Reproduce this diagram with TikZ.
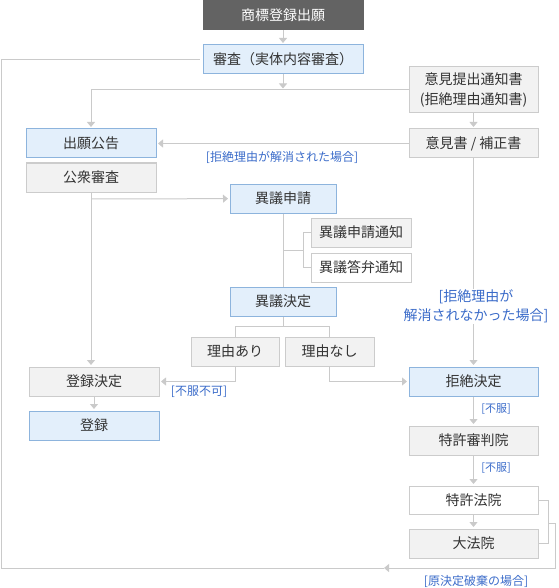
\documentclass[tikz,border=0pt]{standalone}
\usepackage{fontspec}
\setmainfont{Noto Sans CJK JP}
\usetikzlibrary{arrows.meta}
\definecolor{ln}{HTML}{CACACA}
\definecolor{bluefill}{HTML}{E3EFFB}
\definecolor{blueline}{HTML}{8DB4DD}
\definecolor{grayfill}{HTML}{F2F2F2}
\definecolor{grayline}{HTML}{CCCCCC}
\definecolor{txt}{HTML}{333333}
\definecolor{lbl}{HTML}{3A6BC9}
\definecolor{dark}{HTML}{636363}
\begin{document}
\begin{tikzpicture}[x=1pt,y=-1pt,
  base/.style={draw, line width=1pt, inner sep=0pt, text=txt, font=\fontsize{14}{19.5}\selectfont, align=center},
  bluebox/.style={base, fill=bluefill, draw=blueline},
  graybox/.style={base, fill=grayfill, draw=grayline},
  whitebox/.style={base, fill=white, draw=grayline},
  darkbox/.style={base, fill=dark, draw=dark, text=white},
  conn/.style={draw=ln, line width=1pt},
  arr/.style={conn, -{Triangle[width=8pt,length=5pt]}, shorten >=1.5pt},
  lab/.style={text=lbl, font=\fontsize{12}{19}\selectfont, inner sep=1pt, align=center},
  biglab/.style={lab, font=\fontsize{14}{19}\selectfont},
  smalllab/.style={lab, font=\fontsize{11}{19}\selectfont}
]
\useasboundingbox (0,0) rectangle (558,588);
% boxes
\node[darkbox, minimum width=160pt, minimum height=30pt] (app) at (283,15) {商標登録出願};
\node[bluebox, minimum width=160pt, minimum height=29pt] (exam) at (283,59.5) {審査（実体内容審査）};
\node[graybox, minimum width=129pt, minimum height=46pt] (notice) at (473.5,90) {意見提出通知書\\(拒絶理由通知書)};
\node[graybox, minimum width=129pt, minimum height=29pt] (opinion) at (473.5,143.5) {意見書 / 補正書};
\node[bluebox, minimum width=130pt, minimum height=29pt] (pub) at (91,143.5) {出願公告};
\node[graybox, minimum width=130pt, minimum height=29pt] (pubexam) at (91,177.5) {公衆審査};
\node[bluebox, minimum width=106pt, minimum height=29pt] (opp) at (283,198.5) {異議申請};
\node[graybox, minimum width=100pt, minimum height=29pt] (oppnote) at (361,232.5) {異議申請通知};
\node[whitebox, minimum width=100pt, minimum height=29pt] (oppans) at (361,267.5) {異議答弁通知};
\node[bluebox, minimum width=106pt, minimum height=29pt] (oppdec) at (283,301.5) {異議決定};
\node[graybox, minimum width=88pt, minimum height=29pt] (yes) at (235,351.5) {理由あり};
\node[graybox, minimum width=89pt, minimum height=29pt] (no) at (329.5,351.5) {理由なし};
\node[graybox, minimum width=130pt, minimum height=29pt] (regdec) at (94,381.5) {登録決定};
\node[bluebox, minimum width=130pt, minimum height=29pt] (reg) at (94,425.5) {登録};
\node[bluebox, minimum width=129pt, minimum height=29pt] (rej) at (473.5,381.5) {拒絶決定};
\node[graybox, minimum width=129pt, minimum height=29pt] (trib) at (473.5,440.5) {特許審判院};
\node[whitebox, minimum width=129pt, minimum height=28pt] (patct) at (473.5,500) {特許法院};
\node[graybox, minimum width=129pt, minimum height=29pt] (supct) at (473.5,543.5) {大法院};
% coordinates
\coordinate (j1) at (283,90);
\coordinate (j2) at (91,90);
\coordinate (j3) at (91,199);
\coordinate (b1) at (303,232.5);
\coordinate (b2) at (303,267.5);
\coordinate (b3) at (283,250);
\coordinate (b4) at (303,250);
\coordinate (d1) at (283,326);
\coordinate (d2) at (235,326);
\coordinate (d3) at (329.5,326);
\coordinate (e1) at (235,381.5);
\coordinate (e2) at (329.5,381.5);
\coordinate (k1) at (548,500);
\coordinate (k2) at (548,543.5);
\coordinate (k3) at (548,523);
\coordinate (k4) at (555,523);
\coordinate (k5) at (555,568);
\coordinate (k6) at (384,568);
\coordinate (k7) at (1,568);
\coordinate (k8) at (1,59.5);
\coordinate (k9) at (200,59.5);
% connectors
\draw[arr] (app) -- (exam);
\draw[arr] (exam) -- (j1);
\draw[arr] (notice.west) -- (j2) -- (pub);
\draw[arr] (notice) -- (opinion);
\draw[arr] (opinion) -- (pub);
\draw[arr] (pubexam) -- (regdec.north -| pubexam);
\draw[arr] (j3) -- (opp);
\draw[conn] (opp) -- (oppdec);
\draw[conn] (oppnote.west) -- (b1) -- (b2) -- (oppans.west);
\draw[conn] (b3) -- (b4);
\draw[conn] (oppdec) -- (d1);
\draw[conn] (yes) -- (d2) -- (d3) -- (no);
\draw[arr] (yes) -- (e1) -- (regdec);
\draw[arr] (no) -- (e2) -- (rej);
\draw[arr] (opinion) -- (rej);
\draw[arr] (regdec) -- (reg);
\draw[arr] (rej) -- (trib);
\draw[arr] (trib) -- (patct);
\draw[arr] (patct) -- (supct);
\draw[conn] (patct.east) -- (k1) -- (k2) -- (supct.east);
\draw[arr, shorten >=0pt] (k3) -- (k4) -- (k5) -- (k6);
\draw[conn] (k6) -- (k7) -- (k8) -- (k9);
% labels
\node[lab] (l1) at (282,157) {[拒絶理由が解消された場合]};
\node[lab] (l2) at (199,392) {[不服不可]};
\node[biglab, fill=white] (l3) at (476,306.5) {[拒絶理由が\\解消されなかった場合]};
\node[smalllab] (l4) at (496,409) {[不服]};
\node[smalllab] (l5) at (496,468) {[不服]};
\node[lab] (l6) at (476,581) {[原決定破棄の場合]};
\end{tikzpicture}
\end{document}
